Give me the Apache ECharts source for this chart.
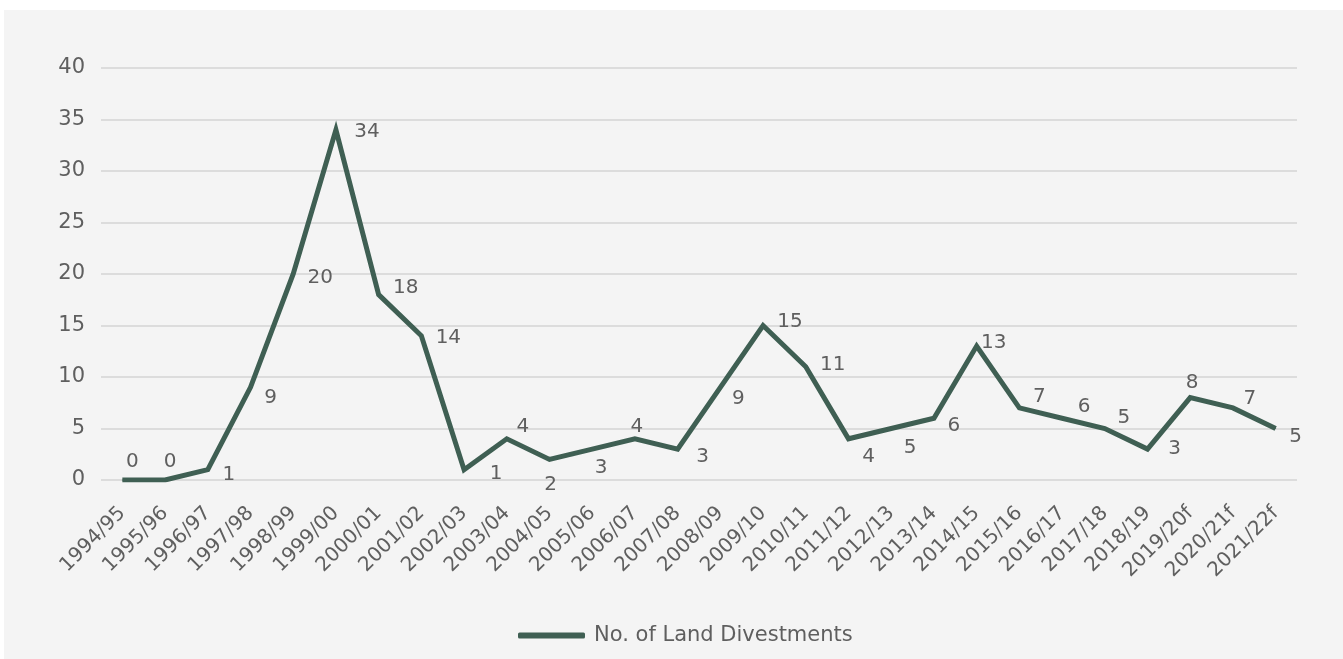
<!DOCTYPE html>
<html>
<head>
<meta charset="utf-8">
<title>No. of Land Divestments</title>
<script src="https://cdn.jsdelivr.net/npm/echarts@6/dist/echarts.min.js"></script>
<style>
  html, body { margin: 0; padding: 0; background: #ffffff; }
  #chart { width: 1343px; height: 659px; }
</style>
</head>
<body>
<div id="chart"></div>
<script>
// Financial years (f = forecast)
const years = [
  '1994/95', '1995/96', '1996/97', '1997/98', '1998/99', '1999/00', '2000/01',
  '2001/02', '2002/03', '2003/04', '2004/05', '2005/06', '2006/07', '2007/08',
  '2008/09', '2009/10', '2010/11', '2011/12', '2012/13', '2013/14', '2014/15',
  '2015/16', '2016/17', '2017/18', '2018/19', '2019/20f', '2020/21f', '2021/22f'
];

// Number of land divestments per year
const divestments = [
  0, 0, 1, 9, 20, 34, 18, 14, 1, 4, 2, 3, 4, 3,
  9, 15, 11, 4, 5, 6, 13, 7, 6, 5, 3, 8, 7, 5
];

const yTicks = { min: 0, max: 40, step: 5 };

// Where each value label sits relative to its point, in pixels
const labelNudge = [
  [10, -18], [5, -18], [21, 5], [20, 10], [27, 4], [31, 2], [27, -7],
  [27, 2], [32, 4], [16, -12], [1, 25], [9, 19], [2, -12], [25, 8],
  [18, 11], [27, -4], [27, -2], [20, 18], [19, 19], [20, 8], [17, -3],
  [20, -11], [22, -11], [19, -11], [27, 0], [2, -15], [17, -9], [20, 8]
];

const LINE = '#3f5f53';
const TEXT = '#5f5f5f';
const FONT = 'DejaVu Sans';

const chart = echarts.init(document.getElementById('chart'), null, { renderer: 'canvas' });

chart.setOption({
  animation: false,
  backgroundColor: '#ffffff',
  textStyle: { fontFamily: FONT },
  graphic: [{
    type: 'rect',
    z: -10,
    silent: true,
    shape: { x: 4, y: 10, width: 1339, height: 649 },
    style: { fill: '#f4f4f4' }
  }],
  grid: { left: 101, right: 46, top: 68, bottom: 179, containLabel: false },
  legend: {
    left: 513,
    top: 620,
    itemWidth: 67,
    itemHeight: 6,
    icon: 'roundRect',
    data: ['No. of Land Divestments'],
    textStyle: { color: TEXT, fontSize: 21, fontFamily: FONT, padding: [0, 0, 0, 4] }
  },
  xAxis: {
    type: 'category',
    data: years,
    boundaryGap: true,
    axisLine: { show: false },
    axisTick: { show: false },
    axisLabel: {
      interval: 0,
      rotate: 45,
      margin: 30,
      color: TEXT,
      fontSize: 20,
      fontFamily: FONT
    }
  },
  yAxis: {
    type: 'value',
    min: yTicks.min,
    max: yTicks.max,
    interval: yTicks.step,
    axisLine: { show: false },
    axisTick: { show: false },
    axisLabel: { margin: 16, color: TEXT, fontSize: 21, fontFamily: FONT },
    splitLine: { lineStyle: { color: '#dcdcdc', width: 2 } }
  },
  series: [{
    name: 'No. of Land Divestments',
    type: 'line',
    symbol: 'circle',
    symbolSize: 1,
    showSymbol: true,
    itemStyle: { color: LINE },
    lineStyle: { color: LINE, width: 5, join: 'miter' },
    label: {
      show: true,
      position: 'inside',
      color: TEXT,
      fontSize: 20,
      fontFamily: FONT
    },
    data: divestments.map((v, i) => ({
      value: v,
      label: { offset: labelNudge[i] }
    }))
  }]
});
</script>
</body>
</html>
